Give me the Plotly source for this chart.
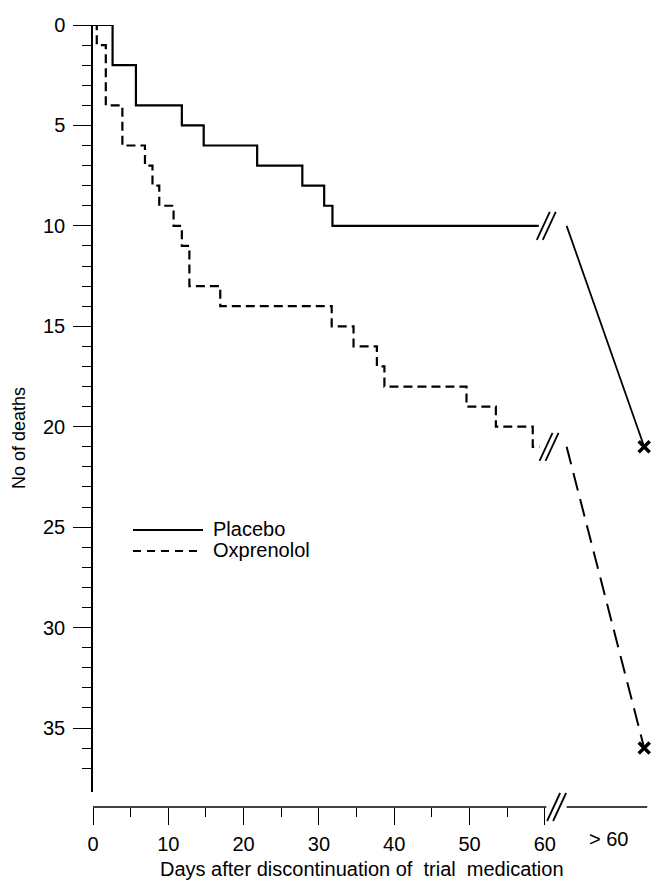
import plotly.graph_objects as go

# Cumulative deaths after stopping trial medication (step at each death day)
placebo_days = [0, 2.6, 5.7, 11.8, 14.7, 21.8, 27.8, 30.7, 31.8, 59.2]
placebo_deaths = [0, 2, 4, 5, 6, 7, 8, 9, 10, 10]

oxprenolol_days = [0, 0.5, 1.7, 3.9, 6.9, 7.9, 8.8, 10.7, 11.8, 12.8, 16.9,
                   31.7, 34.6, 37.7, 38.7, 49.6, 53.5, 58.4, 59.3]
oxprenolol_deaths = [0, 1, 4, 6, 7, 8, 9, 10, 11, 13, 14,
                     15, 16, 17, 18, 19, 20, 21, 21]

# Totals including deaths later than 60 days
late_placebo = 21
late_oxprenolol = 36

series_names = ["Placebo", "Oxprenolol"]

day_ticks = [0, 10, 20, 30, 40, 50, 60]
day_minor_ticks = [5, 15, 25, 35, 45, 55]
late_tick_label = "> 60"
death_ticks = [0, 5, 10, 15, 20, 25, 30, 35]
death_minor_ticks = [v for v in range(1, 38) if v % 5]

# ---- geometry -------------------------------------------------------------
W, H = 655, 884
ML, MR, MT, MB = 93, 0, 25, 77
PX_PER_DAY = 7.53
PX_PER_DEATH = 20.086
AXIS_GAP = 15                      # x axis sits below the end of the y axis
plot_w = W - ML - MR
plot_h = H - MT - MB
x_max = plot_w / PX_PER_DAY
y_max = (plot_h - AXIS_GAP) / PX_PER_DEATH

late_x = 73.2                      # position of the "> 60" column
resume_x = 62.9                    # where the curves continue after the break
late_label_x = 68.5


def px_x(p):
    return (p - ML) / plot_w


def px_y(p):
    return (H - MB - p) / plot_h


FONT = "Liberation Sans, Arial, sans-serif"
INK = "black"

fig = go.Figure()

fig.add_trace(go.Scatter(
    x=placebo_days, y=placebo_deaths, mode="lines", line_shape="hv",
    line=dict(color=INK, width=2.2), name=series_names[0], hoverinfo="skip"))
fig.add_trace(go.Scatter(
    x=oxprenolol_days, y=oxprenolol_deaths, mode="lines", line_shape="hv",
    line=dict(color=INK, width=2.2, dash="9px,5px"), name=series_names[1],
    hoverinfo="skip"))

# continuation to the totals beyond 60 days
fig.add_trace(go.Scatter(
    x=[resume_x, late_x], y=[placebo_deaths[-1], late_placebo], mode="lines",
    line=dict(color=INK, width=1.8), hoverinfo="skip", cliponaxis=False))
fig.add_trace(go.Scatter(
    x=[resume_x, late_x], y=[oxprenolol_deaths[-1], late_oxprenolol],
    mode="lines", line=dict(color=INK, width=2, dash="18px,9px"),
    hoverinfo="skip", cliponaxis=False))
fig.add_trace(go.Scatter(
    x=[late_x, late_x], y=[late_placebo, late_oxprenolol], mode="markers",
    marker=dict(symbol="x-thin", size=11, line=dict(color=INK, width=3.5)),
    hoverinfo="skip", cliponaxis=False))

shapes = []


def break_marks(xref, yref, xa, ya, dx):
    out = []
    for off in (-3, 3):
        out.append(dict(type="line", xref=xref, yref=yref,
                        xsizemode="pixel", ysizemode="pixel",
                        xanchor=xa, yanchor=ya,
                        x0=dx + off - 6, y0=-14, x1=dx + off + 7, y1=14,
                        line=dict(color=INK, width=1.8)))
    return out


shapes += break_marks("x", "y", placebo_days[-1], placebo_deaths[-1], 7)
shapes += break_marks("x", "y", oxprenolol_days[-1], oxprenolol_deaths[-1], 9)

# broken x axis line
shapes.append(dict(type="line", xref="x", yref="paper", x0=0, x1=60.2,
                   y0=0, y1=0, line=dict(color=INK, width=1.5)))
shapes.append(dict(type="line", xref="x", yref="paper", x0=62.9, x1=73.6,
                   y0=0, y1=0, line=dict(color=INK, width=1.5)))
shapes += break_marks("x", "paper", 61.5, 0, 0)

# legend samples
shapes.append(dict(type="line", xref="paper", yref="paper",
                   x0=px_x(133), x1=px_x(203), y0=px_y(530), y1=px_y(530),
                   line=dict(color=INK, width=2)))
shapes.append(dict(type="line", xref="paper", yref="paper",
                   x0=px_x(133), x1=px_x(203), y0=px_y(551), y1=px_y(551),
                   line=dict(color=INK, width=2, dash="8px,6px")))

annotations = [
    dict(text=series_names[0], xref="paper", yref="paper", x=px_x(211),
         y=px_y(529), xanchor="left", yanchor="middle", showarrow=False,
         font=dict(size=20, family=FONT, color=INK)),
    dict(text=series_names[1], xref="paper", yref="paper", x=px_x(211),
         y=px_y(550), xanchor="left", yanchor="middle", showarrow=False,
         font=dict(size=20, family=FONT, color=INK)),
    dict(text="No of deaths", xref="paper", yref="paper", x=px_x(19),
         y=px_y(438), textangle=-90, xanchor="center", yanchor="middle",
         showarrow=False, font=dict(size=18, family=FONT, color=INK)),
    dict(text="Days after discontinuation of\u00a0 trial\u00a0 medication",
         xref="paper", yref="paper", x=px_x(362), y=px_y(869),
         xanchor="center", yanchor="middle", showarrow=False,
         font=dict(size=20, family=FONT, color=INK)),
    dict(text=late_tick_label, xref="x", yref="paper", x=late_label_x,
         y=px_y(839), xanchor="center", yanchor="middle", showarrow=False,
         font=dict(size=20, family=FONT, color=INK)),
]

fig.update_layout(
    width=W, height=H,
    margin=dict(l=ML, r=MR, t=MT, b=MB),
    paper_bgcolor="white", plot_bgcolor="white",
    showlegend=False,
    shapes=shapes, annotations=annotations,
    font=dict(family=FONT, color=INK, size=20),
    xaxis=dict(
        range=[0, x_max], anchor="free", position=0,
        showline=False, showgrid=False, zeroline=False,
        tickmode="array", tickvals=day_ticks,
        ticks="outside", ticklen=17, tickwidth=1.4, tickcolor=INK,
        ticklabelstandoff=2,
        tickfont=dict(size=20, family=FONT, color=INK),
        minor=dict(tickvals=day_minor_ticks, ticks="outside", ticklen=9,
                   tickwidth=1.4, tickcolor=INK, showgrid=False),
    ),
    yaxis=dict(
        range=[y_max, 0], domain=[AXIS_GAP / plot_h, 1],
        showline=True, linecolor=INK, linewidth=1.5, mirror=False,
        showgrid=False, zeroline=False,
        tickmode="array", tickvals=death_ticks,
        ticks="outside", ticklen=18, tickwidth=1.4, tickcolor=INK,
        ticklabelstandoff=4,
        tickfont=dict(size=20, family=FONT, color=INK),
        minor=dict(tickvals=death_minor_ticks, ticks="outside", ticklen=9,
                   tickwidth=1.4, tickcolor=INK, showgrid=False),
    ),
)

fig.write_html("out.html")
